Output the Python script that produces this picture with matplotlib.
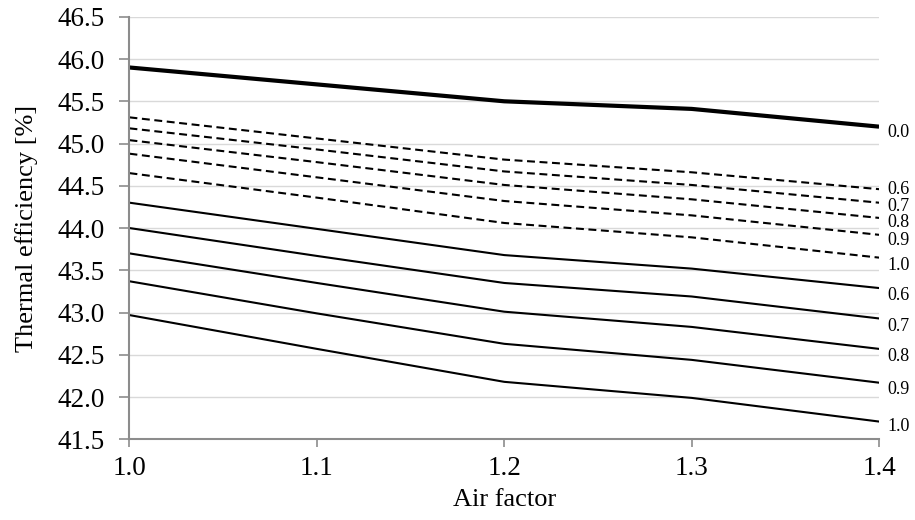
import matplotlib
matplotlib.use("Agg")
import matplotlib.pyplot as plt

plt.rcParams['font.family'] = ['Liberation Serif', 'DejaVu Serif']

air_factor = [1.0, 1.1, 1.2, 1.3, 1.4]

base_label = "0.0"
base_values = [45.90, 45.70, 45.50, 45.41, 45.20]

dashed_labels = ["0.6", "0.7", "0.8", "0.9", "1.0"]
dashed_values = [
    [45.31, 45.06, 44.81, 44.66, 44.46],
    [45.18, 44.93, 44.67, 44.51, 44.30],
    [45.04, 44.78, 44.51, 44.34, 44.12],
    [44.88, 44.60, 44.32, 44.15, 43.92],
    [44.65, 44.36, 44.06, 43.89, 43.65],
]

solid_labels = ["0.6", "0.7", "0.8", "0.9", "1.0"]
solid_values = [
    [44.30, 43.99, 43.68, 43.52, 43.29],
    [44.00, 43.67, 43.35, 43.19, 42.93],
    [43.70, 43.35, 43.01, 42.83, 42.57],
    [43.37, 42.99, 42.63, 42.44, 42.17],
    [42.97, 42.57, 42.18, 41.99, 41.71],
]

x_ticks = [1.0, 1.1, 1.2, 1.3, 1.4]
y_ticks = [41.5, 42.0, 42.5, 43.0, 43.5, 44.0, 44.5, 45.0, 45.5, 46.0, 46.5]

fig = plt.figure(figsize=(9.15, 5.20), dpi=100)
ax = fig.add_axes([0.1415, 0.1552, 0.8192, 0.8125])

def end_label(vals, text, dy):
    ax.annotate(text, xy=(air_factor[-1], vals[-1]), xytext=(8, dy),
                textcoords='offset pixels', ha='left', va='center',
                fontsize=13, color='black', annotation_clip=False)

ax.plot(air_factor, base_values, color='black', lw=3.0, solid_capstyle='butt')
end_label(base_values, base_label, -6)

for vals, lab in zip(dashed_values, dashed_labels):
    ax.plot(air_factor, vals, color='black', lw=1.5, linestyle=(0, (3.8, 2.2)))
for vals, lab, dy in zip(dashed_values, dashed_labels, [0, -4, -5, -6, -8]):
    end_label(vals, lab, dy)

for vals, lab in zip(solid_values, solid_labels):
    ax.plot(air_factor, vals, color='black', lw=1.5)
for vals, lab, dy in zip(solid_values, solid_labels, [-7, -8, -8, -7, -5]):
    end_label(vals, lab, dy)

ax.set_xlim(1.0, 1.4)
ax.set_ylim(41.5, 46.5)
ax.set_xticks(x_ticks)
ax.set_xticklabels([f"{v:.1f}" for v in x_ticks])
ax.set_yticks(y_ticks)
ax.set_yticklabels([f"{v:.1f}" for v in y_ticks])

ax.grid(axis='y', color='#d9d9d9', lw=1.0)
ax.set_axisbelow(True)
for s in ['top', 'right']:
    ax.spines[s].set_visible(False)
for s in ['left', 'bottom']:
    ax.spines[s].set_color('#8c8c8c')
    ax.spines[s].set_linewidth(1.5)
ax.tick_params(axis='both', colors='#8c8c8c', width=1.2, labelsize=19.5,
               labelcolor='black', direction='out')
ax.tick_params(axis='y', length=7, pad=11)
ax.tick_params(axis='x', length=6, pad=6)

ax.set_xlabel("Air factor", fontsize=19, labelpad=6)
ax.set_ylabel("Thermal efficiency [%]", fontsize=19, labelpad=14)

fig.savefig("out.png", dpi=100)
